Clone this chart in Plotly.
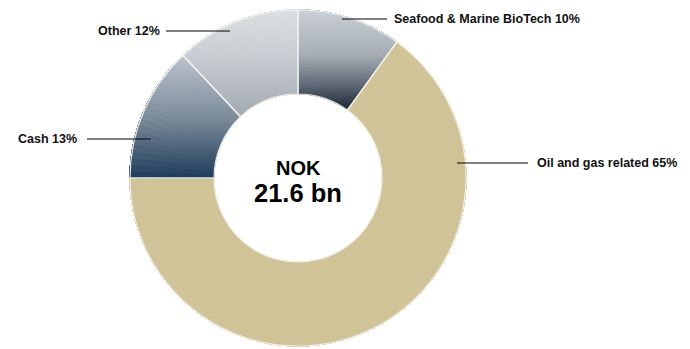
import numpy as np
import plotly.graph_objects as go

# ---- data ----
categories = ["Seafood & Marine BioTech", "Oil and gas related", "Cash", "Other"]
shares = [10, 65, 13, 12]
center_title = "NOK"
center_value = "21.6 bn"

# ---- layout constants (pixels) ----
W, H = 690, 349
CX, CY, R = 298, 178, 168
HOLE = 0.5
FONT = "Liberation Sans, Arial, sans-serif"

OIL = "#d1c398"
gradients = {
    "Seafood & Marine BioTech": [(12, "#c8ced4"), (55, "#a6adb5"), (85, "#5f6875"), (110, "#1b2533")],
    "Oil and gas related": None,
    "Cash": [(55, "#bcc4cc"), (117, "#7d8c9b"), (150, "#4a6078"), (178, "#1d3c5b")],
    "Other": [(12, "#dcdfe2"), (60, "#c6cbd0"), (115, "#a3aab1")],
}


def hex2rgb(h):
    h = h.lstrip("#")
    return [int(h[i:i + 2], 16) for i in (0, 2, 4)]


def grad_color(stops, y):
    ys = [s[0] for s in stops]
    rgb = np.array([hex2rgb(s[1]) for s in stops])
    c = [int(round(np.interp(y, ys, rgb[:, i]))) for i in range(3)]
    return "rgb(%d,%d,%d)" % tuple(c)


dom = dict(x=[(CX - R) / W, (CX + R) / W], y=[(H - CY - R) / H, (H - CY + R) / H])

N_RAD, N_ANG = 24, 20
total = sum(shares)
edges = np.linspace(HOLE, 1, N_RAD + 1)
fig = go.Figure()
for k in range(N_RAD):
    r_mid = (edges[k] + edges[k + 1]) / 2 * R
    vals, cols = [], []
    start = 0
    for cat, v in zip(categories, shares):
        stops = gradients[cat]
        if stops is None:
            vals.append(v)
            cols.append(OIL)
        else:
            for j in range(N_ANG):
                a0 = start + v * j / N_ANG
                a1 = start + v * (j + 1) / N_ANG
                th = np.deg2rad((a0 + a1) / 2 / total * 360)
                y = CY - r_mid * np.cos(th)
                vals.append(v / N_ANG)
                cols.append(grad_color(stops, y))
        start += v
    fig.add_trace(go.Pie(
        values=vals, marker=dict(colors=cols, line=dict(color=cols, width=1)),
        hole=float(edges[k]), sort=False, direction="clockwise", rotation=0,
        textinfo="none", hoverinfo="skip", showlegend=False, domain=dom))

# slice separators / rim highlight
fig.add_trace(go.Pie(
    labels=categories, values=shares,
    marker=dict(colors=["rgba(0,0,0,0)"] * 4, line=dict(color="rgba(245,245,240,0.9)", width=1.2)),
    hole=HOLE, sort=False, direction="clockwise", rotation=0,
    textinfo="none", hoverinfo="skip", showlegend=False, domain=dom))

# ---- labels with leader lines ----
label_texts = ["%s %d%%" % (c, v) for c, v in zip(categories, shares)]
# (line x0, line x1, y, text x, anchor)
label_pos = [
    (342, 387, 19, 392, "left"),
    (457, 528, 163, 535, "left"),
    (87, 151, 139, 79, "right"),
    (166, 230, 31, 162, "right"),
]
shapes, annots = [], []
for txt, (x0, x1, y, tx, anc) in zip(label_texts, label_pos):
    shapes.append(dict(type="line", xref="paper", yref="paper",
                       x0=x0 / W, x1=x1 / W, y0=1 - y / H, y1=1 - y / H,
                       line=dict(color="black", width=1)))
    annots.append(dict(text="<b>%s</b>" % txt, x=tx / W, y=1 - y / H, xref="paper", yref="paper",
                       xanchor=anc, yanchor="middle", showarrow=False,
                       font=dict(family=FONT, size=12.5, color="#111111")))

annots.append(dict(text="<b>%s</b>" % center_title, x=CX / W, y=1 - 168 / H, xref="paper", yref="paper",
                   xanchor="center", yanchor="middle", showarrow=False,
                   font=dict(family=FONT, size=20, color="black")))
annots.append(dict(text="<b>%s</b>" % center_value, x=CX / W, y=1 - 193 / H, xref="paper", yref="paper",
                   xanchor="center", yanchor="middle", showarrow=False,
                   font=dict(family=FONT, size=25.5, color="black")))

fig.update_layout(width=W, height=H, margin=dict(l=0, r=0, t=0, b=0),
                  paper_bgcolor="white", plot_bgcolor="white",
                  shapes=shapes, annotations=annots)

fig.write_html("out.html")
